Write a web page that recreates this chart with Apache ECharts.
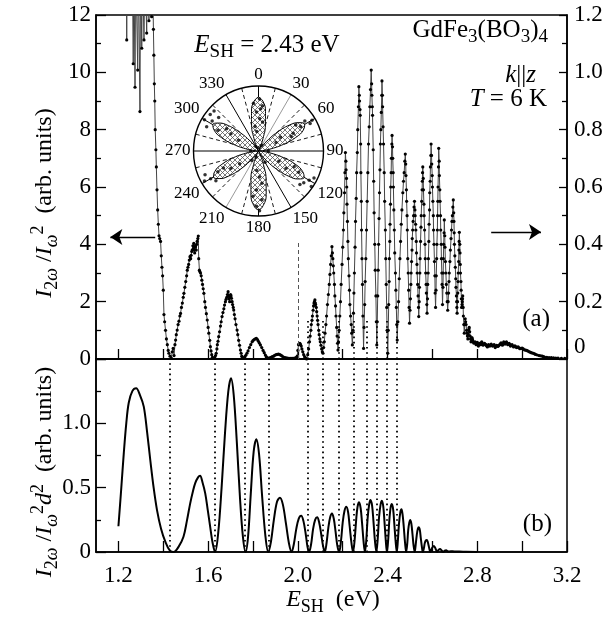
<!DOCTYPE html>
<html><head><meta charset="utf-8">
<script src="https://cdn.jsdelivr.net/npm/echarts@6/dist/echarts.min.js"></script>
<style>html,body{margin:0;padding:0;background:#fff}#c{width:610px;height:625px}</style>
</head><body><div id="c"></div>
<script>
// ---------------- DATA ----------------
const xTickValues = [1.2,1.4,1.6,1.8,2.0,2.2,2.4,2.6,2.8,3.0,3.2];
const xLabelValues = [1.2,1.6,2.0,2.4,2.8,3.2];

// (a) measured SH spectrum [E (eV), I2w/Iw^2]
const topData = [
[1.236,14],[1.237,11.13],[1.238,14],[1.262,14],[1.266,10.3],[1.269,14],[1.271,14],[1.274,9.48],[1.277,14],
[1.283,14],[1.286,10.08],[1.289,14],[1.293,14],[1.296,8.63],[1.299,14],[1.302,14],[1.304,10.84],[1.307,14],
[1.311,14],[1.314,11.13],[1.318,14],[1.322,14],[1.326,11.37],[1.33,14],[1.333,14],[1.336,11.8],[1.34,14],
[1.345,14],[1.348,11.94],[1.352,14],[1.354,12.5],[1.356,11.5],[1.358,10.6],[1.36,9.6],[1.362,9.0],[1.364,8.0],
[1.367,7.3],[1.369,6.7],[1.372,5.9],[1.375,5.2],[1.378,4.7],[1.381,4.3],[1.384,4.2],[1.388,4.1],[1.391,3.6],
[1.394,3.2],[1.397,2.9],[1.400,2.4],[1.403,1.55],[1.406,1.3],[1.41,1.0],[1.414,0.7],[1.418,0.5],[1.422,0.3],
[1.425,0.2],[1.43,0.1],[1.436,0.03],[1.44,0.25],[1.444,0.37],[1.448,0.12],[1.452,0.5],[1.455,0.66],[1.458,0.85],
[1.462,1.01],[1.466,1.2],[1.47,1.32],[1.474,1.5],[1.477,1.59],[1.481,1.8],[1.485,1.95],[1.489,2.15],[1.492,2.29],
[1.496,2.5],[1.5,2.7],[1.504,2.9],[1.507,3.1],[1.51,3.2],[1.513,3.3],[1.516,3.45],[1.519,3.57],[1.522,3.5],
[1.524,3.62],[1.527,3.75],[1.529,3.8],[1.532,3.95],[1.534,3.85],[1.536,4.03],[1.538,3.8],[1.54,3.7],[1.542,3.9],
[1.544,3.95],[1.547,3.8],[1.549,4.0],[1.551,4.1],[1.554,4.2],[1.556,4.29],[1.558,3.5],[1.561,3.1],[1.563,3.05],
[1.566,3.0],[1.569,2.9],[1.572,2.75],[1.575,2.6],[1.578,2.45],[1.581,2.29],[1.585,2.0],[1.588,1.8],[1.592,1.58],
[1.596,1.36],[1.6,1.1],[1.603,0.9],[1.607,0.65],[1.61,0.43],[1.613,0.28],[1.616,0.15],[1.619,0.06],[1.622,0.02],
[1.626,0.03],[1.629,0.05],[1.633,0.12],[1.636,0.2],[1.639,0.35],[1.641,0.5],[1.644,0.62],[1.647,0.78],[1.651,0.95],
[1.655,1.15],[1.658,1.3],[1.662,1.48],[1.666,1.62],[1.67,1.75],[1.673,1.88],[1.677,2.0],[1.68,2.08],[1.683,2.15],
[1.686,2.25],[1.689,2.35],[1.691,2.2],[1.693,2.1],[1.696,2.0],[1.698,2.15],[1.7,2.25],[1.702,2.2],[1.704,2.12],
[1.707,2.0],[1.709,1.9],[1.712,1.8],[1.714,1.71],[1.717,1.55],[1.72,1.4],[1.724,1.2],[1.729,1.01],[1.732,0.85],
[1.736,0.65],[1.74,0.48],[1.744,0.31],[1.747,0.2],[1.75,0.1],[1.753,0.05],[1.756,0.02],[1.76,0.04],[1.764,0.08],
[1.768,0.13],[1.773,0.2],[1.778,0.28],[1.784,0.4],[1.79,0.5],[1.796,0.6],[1.8,0.64],[1.805,0.68],[1.81,0.7],
[1.815,0.72],[1.82,0.68],[1.824,0.62],[1.828,0.56],[1.833,0.49],[1.839,0.4],[1.845,0.3],[1.85,0.22],[1.855,0.14],
[1.859,0.08],[1.862,0.05],[1.866,0.03],[1.87,0.02],[1.875,0.04],[1.88,0.06],[1.886,0.08],[1.892,0.1],[1.897,0.13],
[1.903,0.15],[1.908,0.16],[1.914,0.17],[1.92,0.15],[1.925,0.13],[1.93,0.1],[1.936,0.07],[1.942,0.05],[1.947,0.04],
[1.953,0.03],[1.959,0.02],[1.965,0.02],[1.97,0.02],[1.976,0.02],[1.981,0.02],[1.986,0.03],[1.99,0.03],[1.994,0.06],
[1.997,0.1],[2.0,0.3],[2.003,0.5],[2.006,0.53],[2.009,0.55],[2.012,0.5],[2.015,0.45],[2.018,0.35],[2.022,0.25],
[2.026,0.15],[2.03,0.08],[2.035,0.03],[2.039,0.0],[2.044,0.15],[2.048,0.35],[2.052,0.6],[2.055,0.8],[2.058,1.0],
[2.06,1.2],[2.063,1.35],[2.065,1.5],[2.068,1.7],[2.07,1.85],[2.072,1.95],[2.074,2.0],[2.076,2.06],[2.078,1.95],
[2.079,1.9],[2.082,1.8],[2.084,1.65],[2.086,1.5],[2.088,1.35],[2.09,1.2],[2.093,1.0],[2.095,0.85],[2.098,0.7],
[2.1,0.6],[2.103,0.48],[2.106,0.35],[2.109,0.25],[2.112,0.2],[2.115,0.4],[2.118,0.6],[2.121,0.9],[2.125,1.2],
[2.128,1.5],[2.132,1.9],[2.136,2.25],[2.14,2.6],[2.143,2.95],[2.146,3.3],[2.149,3.6],[2.152,3.92],[2.154,3.7],
[2.156,3.5],[2.158,3.25],[2.16,3.0],[2.163,2.6],[2.165,2.2],[2.168,1.85],[2.17,1.5],[2.173,1.1],[2.175,0.8],
[2.177,0.55],[2.179,0.31],[2.181,0.6],[2.184,1.0],[2.187,1.5],[2.19,2.0],[2.193,2.6],[2.197,3.3],[2.2,3.9],
[2.203,4.5],[2.205,5.1],[2.208,5.8],[2.21,6.5],[2.212,7.2],[2.214,6.9],[2.215,6.6],[2.217,6.3],[2.218,6.0],
[2.219,5.4],[2.221,4.8],[2.223,4.1],[2.225,3.5],[2.228,2.9],[2.23,2.4],[2.232,1.9],[2.235,1.5],[2.238,1.2],
[2.24,0.9],[2.243,0.49],[2.246,1.0],[2.248,1.6],[2.25,2.3],[2.252,3.0],[2.255,3.9],[2.257,4.8],[2.26,5.6],
[2.262,6.5],[2.265,7.2],[2.267,8.0],[2.27,8.8],[2.272,9.5],[2.274,9.2],[2.275,9.0],[2.277,8.7],[2.278,8.5],
[2.28,7.5],[2.281,6.5],[2.283,5.5],[2.284,4.5],[2.286,3.5],[2.288,2.6],[2.29,1.5],[2.293,0.37],[2.295,1.1],
[2.298,1.9],[2.3,2.7],[2.303,3.5],[2.306,4.5],[2.309,5.5],[2.312,6.5],[2.315,7.5],[2.318,8.1],[2.321,8.8],
[2.324,9.4],[2.327,10.08],[2.329,9.6],[2.33,9.2],[2.332,8.8],[2.333,8.5],[2.336,7.3],[2.338,6.2],[2.34,5.1],
[2.343,4.0],[2.345,3.1],[2.348,2.2],[2.35,1.3],[2.352,0.49],[2.354,1.3],[2.356,2.2],[2.358,3.1],[2.36,4.0],
[2.362,4.9],[2.364,5.8],[2.366,6.6],[2.368,7.5],[2.37,8.0],[2.372,8.6],[2.374,9.2],[2.375,9.7],[2.377,9.2],
[2.378,8.8],[2.38,8.1],[2.382,7.5],[2.385,6.5],[2.387,5.5],[2.39,4.5],[2.392,3.5],[2.394,2.6],[2.396,1.8],
[2.398,1.0],[2.401,0.2],[2.403,1.0],[2.405,1.9],[2.407,2.7],[2.408,3.5],[2.41,4.1],[2.411,4.7],[2.413,5.4],
[2.414,6.0],[2.416,6.5],[2.417,7.0],[2.419,7.5],[2.42,7.8],[2.422,7.4],[2.423,7.0],[2.425,6.5],[2.426,6.0],
[2.428,5.2],[2.43,4.5],[2.432,3.7],[2.435,3.0],[2.437,2.4],[2.439,1.8],[2.441,1.2],[2.443,0.66],[2.446,1.3],
[2.449,2.0],[2.452,2.8],[2.455,3.5],[2.458,4.1],[2.461,4.7],[2.464,5.2],[2.468,5.8],[2.471,6.2],[2.474,6.5],
[2.477,6.9],[2.479,7.15],[2.481,6.8],[2.482,6.4],[2.484,5.9],[2.485,5.5],[2.487,5.0],[2.488,4.5],[2.49,3.5],
[2.492,3.0],[2.494,2.4],[2.496,1.8],[2.498,1.25],[2.5,1.7],[2.502,2.1],[2.504,2.6],[2.505,3.0],[2.507,3.4],
[2.509,3.8],[2.51,4.2],[2.512,4.5],[2.514,4.8],[2.516,5.0],[2.518,5.3],[2.52,5.5],[2.522,5.2],[2.523,5.0],
[2.525,4.7],[2.526,4.5],[2.528,4.1],[2.529,3.7],[2.531,3.3],[2.532,3.0],[2.534,2.6],[2.536,2.2],[2.538,1.8],
[2.539,1.48],[2.541,2.0],[2.542,2.5],[2.544,3.0],[2.545,3.5],[2.547,4.1],[2.549,4.6],[2.55,5.0],[2.552,5.5],
[2.554,5.9],[2.555,6.2],[2.556,6.5],[2.557,6.7],[2.559,6.3],[2.56,5.9],[2.562,5.4],[2.563,5.0],[2.565,4.5],
[2.567,4.0],[2.568,3.5],[2.57,3.0],[2.572,2.6],[2.573,2.3],[2.575,1.9],[2.576,1.6],[2.578,2.1],[2.579,2.6],
[2.581,3.0],[2.582,3.5],[2.584,4.1],[2.585,4.7],[2.587,5.2],[2.588,5.8],[2.59,6.2],[2.591,6.7],[2.593,7.1],
[2.594,7.5],[2.596,7.1],[2.597,6.8],[2.599,6.4],[2.6,6.0],[2.602,5.5],[2.604,5.0],[2.605,4.5],[2.607,4.0],
[2.609,3.4],[2.611,2.9],[2.612,2.3],[2.614,1.8],[2.616,2.4],[2.617,2.9],[2.619,3.5],[2.62,4.0],[2.622,4.5],
[2.623,5.0],[2.624,5.5],[2.625,6.0],[2.627,6.7],[2.628,7.35],[2.63,6.9],[2.631,6.4],[2.633,5.9],[2.634,5.5],
[2.636,5.0],[2.637,4.5],[2.639,4.0],[2.64,3.5],[2.642,3.0],[2.643,2.6],[2.645,1.9],[2.647,2.5],[2.648,3.0],
[2.649,3.5],[2.65,4.0],[2.652,4.4],[2.653,4.85],[2.655,4.3],[2.656,3.9],[2.658,3.4],[2.66,3.0],[2.662,2.6],
[2.664,2.3],[2.666,2.0],[2.668,1.7],[2.67,2.0],[2.672,2.3],[2.674,2.7],[2.675,3.0],[2.678,3.4],[2.68,3.8],
[2.683,4.2],[2.685,4.5],[2.687,4.8],[2.689,5.0],[2.691,5.3],[2.693,5.55],[2.695,5.1],[2.696,4.8],[2.697,4.4],
[2.698,4.0],[2.7,3.6],[2.702,3.2],[2.704,2.8],[2.705,2.5],[2.707,2.2],[2.708,2.0],[2.709,1.8],[2.71,1.6],
[2.712,2.0],[2.713,2.3],[2.714,2.7],[2.715,3.0],[2.717,3.4],[2.718,3.8],[2.719,4.1],[2.72,4.42],[2.722,4.0],
[2.723,3.7],[2.724,3.3],[2.725,3.0],[2.727,2.7],[2.728,2.4],[2.729,2.1],[2.73,1.8],[2.732,1.9],[2.733,2.0],
[2.734,2.1],[2.735,2.2],[2.737,1.8],[2.738,1.5],[2.74,1.2],[2.742,0.9],[2.744,1.2],[2.746,1.4],[2.748,1.3],
[2.75,1.2],[2.752,1.0],[2.754,0.9],[2.756,0.8],[2.758,0.7],[2.76,0.85],[2.761,1.0],[2.763,1.05],[2.764,1.1],
[2.766,0.95],[2.768,0.8],[2.77,0.7],[2.772,0.6],[2.774,0.68],[2.776,0.75],[2.778,0.7],[2.779,0.66],[2.782,0.6],
[2.785,0.55],[2.788,0.58],[2.79,0.6],[2.793,0.55],[2.795,0.5],[2.798,0.55],[2.8,0.58],[2.803,0.5],[2.805,0.45],
[2.808,0.5],[2.81,0.55],[2.813,0.52],[2.815,0.5],[2.818,0.56],[2.82,0.6],[2.823,0.52],[2.826,0.48],[2.829,0.52],
[2.832,0.55],[2.835,0.52],[2.838,0.5],[2.841,0.46],[2.845,0.42],[2.848,0.46],[2.85,0.5],[2.853,0.48],[2.856,0.45],
[2.859,0.48],[2.862,0.52],[2.865,0.48],[2.868,0.45],[2.871,0.48],[2.875,0.5],[2.878,0.45],[2.88,0.4],[2.883,0.44],
[2.886,0.48],[2.889,0.46],[2.892,0.44],[2.896,0.47],[2.9,0.5],[2.903,0.53],[2.906,0.56],[2.909,0.52],[2.912,0.48],
[2.915,0.54],[2.918,0.6],[2.921,0.56],[2.924,0.52],[2.927,0.56],[2.93,0.6],[2.933,0.55],[2.936,0.5],[2.939,0.52],
[2.942,0.55],[2.945,0.5],[2.948,0.45],[2.951,0.48],[2.955,0.5],[2.958,0.46],[2.962,0.42],[2.965,0.44],[2.968,0.46],
[2.971,0.43],[2.975,0.4],[2.978,0.41],[2.982,0.42],[2.986,0.39],[2.99,0.36],[2.995,0.37],[3.0,0.38],[3.005,0.35],
[3.01,0.32],[3.015,0.31],[3.02,0.3],[3.025,0.28],[3.03,0.26],[3.035,0.24],[3.04,0.22],[3.045,0.21],[3.05,0.2],
[3.055,0.18],[3.06,0.16],[3.068,0.14],[3.076,0.12],[3.083,0.11],[3.09,0.1],[3.095,0.08],[3.1,0.07],[3.11,0.06],
[3.12,0.05],[3.13,0.045],[3.14,0.04],[3.15,0.035],[3.16,0.03],[3.175,0.025],[3.19,0.02]
];

// (b) calculated curve [E (eV), I2w/(Iw^2 d^2)]
const bottomData = [
[1.2,0.2],[1.212,0.48],[1.224,0.77],[1.235,1.0],[1.246,1.16],[1.262,1.25],[1.279,1.272],[1.296,1.22],[1.313,1.13],
[1.328,0.93],[1.342,0.715],[1.357,0.5],[1.372,0.326],[1.39,0.18],[1.409,0.08],[1.428,0.015],[1.446,0.0],[1.468,0.04],
[1.49,0.119],[1.505,0.24],[1.52,0.378],[1.532,0.47],[1.542,0.534],[1.555,0.58],[1.564,0.593],[1.575,0.54],[1.587,0.456],
[1.598,0.33],[1.609,0.197],[1.62,0.07],[1.631,0.0],[1.645,0.15],[1.66,0.5],[1.675,0.92],[1.69,1.25],[1.702,1.35],
[1.714,1.22],[1.728,0.85],[1.742,0.42],[1.755,0.12],[1.767,0.0],[1.778,0.12],[1.79,0.45],[1.803,0.78],[1.815,0.876],
[1.827,0.76],[1.84,0.45],[1.855,0.13],[1.868,0.0],[1.88,0.08],[1.893,0.25],[1.907,0.39],[1.92,0.422],[1.933,0.37],
[1.947,0.22],[1.96,0.07],[1.972,0.0],[1.982,0.06],[1.993,0.18],[2.004,0.26],[2.015,0.282],[2.025,0.24],[2.035,0.14],
[2.043,0.04],[2.05,0.0],[2.059,0.06],[2.068,0.18],[2.077,0.25],[2.086,0.27],[2.095,0.23],[2.104,0.14],[2.112,0.05],
[2.12,0.0],[2.128,0.07],[2.136,0.19],[2.144,0.27],[2.152,0.3],[2.16,0.26],[2.168,0.16],[2.176,0.05],[2.184,0.0],
[2.192,0.08],[2.2,0.23],[2.208,0.32],[2.216,0.352],[2.224,0.31],[2.231,0.2],[2.239,0.07],[2.246,0.0],[2.253,0.09],
[2.26,0.25],[2.266,0.35],[2.273,0.386],[2.28,0.34],[2.286,0.23],[2.293,0.08],[2.299,0.0],[2.305,0.09],[2.311,0.26],
[2.318,0.37],[2.324,0.404],[2.331,0.36],[2.337,0.24],[2.344,0.08],[2.35,0.0],[2.356,0.1],[2.362,0.27],[2.369,0.37],
[2.375,0.398],[2.381,0.35],[2.386,0.24],[2.392,0.09],[2.397,0.0],[2.403,0.1],[2.408,0.25],[2.414,0.35],[2.419,0.373],
[2.425,0.33],[2.43,0.22],[2.436,0.08],[2.441,0.0],[2.446,0.09],[2.451,0.22],[2.457,0.31],[2.462,0.332],[2.467,0.29],
[2.472,0.2],[2.478,0.07],[2.483,0.0],[2.488,0.07],[2.492,0.17],[2.497,0.23],[2.501,0.249],[2.506,0.22],[2.511,0.14],
[2.516,0.05],[2.521,0.0],[2.525,0.05],[2.53,0.13],[2.535,0.18],[2.539,0.192],[2.544,0.17],[2.548,0.11],[2.553,0.04],
[2.557,0.0],[2.562,0.03],[2.566,0.07],[2.571,0.09],[2.575,0.093],[2.579,0.08],[2.583,0.05],[2.587,0.02],[2.591,0.0],
[2.598,0.03],[2.606,0.047],[2.613,0.03],[2.621,0.0],[2.627,0.015],[2.634,0.023],[2.641,0.012],[2.648,0.0],[2.655,0.01],
[2.661,0.013],[2.668,0.006],[2.675,0.004],[2.69,0.006],[2.705,0.003],[2.72,0.004],[2.75,0.001],[2.8,0.0]
];

// dotted guide lines (eV)
const dottedLower = [1.427,1.631,1.764,1.868,2.046,2.113,2.184,2.249,2.305,2.35,2.397,2.441];
const dottedUpper = [2.046,2.113,2.184,2.249,2.305,2.35,2.397,2.441];

// polar inset: fitted lobes, r at angle (deg)
const lobeAngles = [0,5,10,15,20,25,30,35,40,45,50,55,60,65,70,75,80,85,90,95,100,105,110,115,120,125,130,135,140,145,150,
155,160,165,170,175,180,185,190,195,200,205,210,215,220,225,230,235,240,245,250,255,260,265,270,275,280,285,290,295,300,
305,310,315,320,325,330,335,340,345,350,355,360];
const lobeR = [0.83,0.77,0.62,0.41,0.2,0.06,0,0.06,0.2,0.41,0.62,0.76,0.82,0.76,0.61,0.4,0.2,0.06,0,0.06,0.2,0.4,0.61,0.75,0.81,
0.75,0.6,0.4,0.2,0.05,0,0.06,0.22,0.45,0.68,0.84,0.9,0.84,0.67,0.45,0.22,0.06,0,0.05,0.2,0.4,0.6,0.74,0.8,0.74,0.6,0.4,0.2,
0.05,0,0.05,0.2,0.4,0.61,0.75,0.81,0.75,0.61,0.4,0.2,0.06,0,0.06,0.2,0.41,0.62,0.77,0.83];
// measured points [r, angle]
const polarDots = [
[0.3,355],[0.5,2],[0.6,357],[0.7,5],[0.8,1],[0.74,354],[0.45,8],[0.65,3],[0.38,352],
[0.4,58],[0.6,63],[0.75,60],[0.85,57],[0.9,62],[0.7,55],[0.55,66],[0.95,60],[0.3,64],
[0.5,122],[0.7,118],[0.85,125],[0.9,120],[0.95,116],[0.82,129],[0.6,114],[0.98,124],[0.35,117],
[0.4,178],[0.6,183],[0.75,176],[0.85,182],[0.7,187],[0.5,174],[0.92,179],[0.3,185],
[0.5,238],[0.7,243],[0.85,240],[0.9,246],[0.8,235],[0.6,244],[0.95,241],[0.35,236],
[0.5,302],[0.7,297],[0.85,303],[0.93,307],[0.96,300],[0.88,295],[0.8,310],[0.6,305],[0.92,312],[0.35,298],
[0.1,30],[0.15,90],[0.1,200],[0.12,270],[0.2,150],[0.05,0],[0.08,330],[0.18,215]
];

// ---------------- CHART ----------------
const F = "'Liberation Serif','Times New Roman',serif";
const chart = echarts.init(document.getElementById('c'), null, {renderer:'canvas'});

const pc = document.createElement('canvas'); pc.width = 5; pc.height = 5;
const px = pc.getContext('2d');
px.fillStyle = '#fff'; px.fillRect(0,0,5,5);
px.strokeStyle = '#555'; px.lineWidth = 0.8;
px.beginPath(); px.moveTo(0,0); px.lineTo(5,5); px.moveTo(5,0); px.lineTo(0,5); px.stroke();

function mkRich(main, sub, lh, slh){
  return {
    n:{fontFamily:F,fontSize:main,lineHeight:lh,color:'#000'},
    i:{fontFamily:F,fontSize:main,fontStyle:'italic',lineHeight:lh,color:'#000'},
    sub:{fontFamily:F,fontSize:sub,lineHeight:slh,verticalAlign:'bottom',color:'#000'},
    subi:{fontFamily:F,fontSize:sub,fontStyle:'italic',lineHeight:slh,verticalAlign:'bottom',color:'#000'},
    sup:{fontFamily:F,fontSize:sub,lineHeight:slh,verticalAlign:'top',color:'#000'}
  };
}
const richA = mkRich(25,19,34,18);
const richT = mkRich(24,18,32,17);
function txt(x,y,text,align,rot,rich){
  return {type:'text',x:x,y:y,rotation:rot||0,silent:true,z:10,
    style:{text:text,rich:rich||richA,align:align||'center',verticalAlign:'middle'}};
}

const fmt1 = v => (Math.abs(v) < 1e-9 ? '0' : v.toFixed(1));
const lab = {fontFamily:F,fontSize:23,color:'#000'};
const axLine = {show:true,lineStyle:{color:'#000',width:1.5}};

const option = {
  animation:false,
  backgroundColor:'#fff',
  grid:[
    {left:96,top:15,width:471,height:344,show:true,borderColor:'#000',borderWidth:1.5,backgroundColor:'transparent'},
    {left:96,top:359,width:471,height:193,show:true,borderColor:'#000',borderWidth:1.5,backgroundColor:'transparent'}
  ],
  xAxis:[
    {type:'value',gridIndex:0,min:1.1,max:3.2,axisLine:axLine,splitLine:{show:false},
     axisTick:{show:true,inside:true,length:10,customValues:xTickValues,lineStyle:{color:'#000',width:1.3}},
     axisLabel:{show:false}},
    {type:'value',gridIndex:1,min:1.1,max:3.2,axisLine:axLine,splitLine:{show:false},
     axisTick:{show:true,inside:true,length:11,customValues:xTickValues,lineStyle:{color:'#000',width:1.3}},
     axisLabel:Object.assign({customValues:xLabelValues,margin:12,formatter:fmt1},lab)}
  ],
  yAxis:[
    {type:'value',gridIndex:0,min:0,max:12,interval:2,position:'left',axisLine:axLine,splitLine:{show:false},
     axisTick:{show:true,inside:true,length:10,lineStyle:{color:'#000',width:1.3}},
     minorTick:{show:true,splitNumber:2,length:5,lineStyle:{color:'#000',width:1.3}},
     axisLabel:Object.assign({margin:5},lab)},
    {type:'value',gridIndex:0,min:0,max:1.2,interval:0.2,position:'right',axisLine:axLine,splitLine:{show:false},
     axisTick:{show:true,inside:true,length:8,lineStyle:{color:'#000',width:1.3}},
     minorTick:{show:true,splitNumber:2,length:5,lineStyle:{color:'#000',width:1.3}},
     axisLabel:Object.assign({margin:7,formatter:v => (Math.abs(v)<1e-9 ? '{z|0}' : v.toFixed(1)),
       rich:{z:{fontFamily:F,fontSize:23,color:'#000',padding:[0,0,24,0]}}},lab)},
    {type:'value',gridIndex:1,min:0,max:1.5,interval:0.5,position:'left',axisLine:axLine,splitLine:{show:false},
     axisTick:{show:true,inside:true,length:10,lineStyle:{color:'#000',width:1.3}},
     minorTick:{show:true,splitNumber:2,length:5,lineStyle:{color:'#000',width:1.3}},
     axisLabel:Object.assign({margin:5,formatter:v => (v > 1.4 ? '' : fmt1(v))},lab)}
  ],
  polar:{center:[258.5,151],radius:65},
  angleAxis:{type:'value',min:0,max:360,interval:30,startAngle:90,clockwise:true,
    axisLine:{show:true,lineStyle:{color:'#000',width:1.4}},
    axisTick:{show:false},
    axisLabel:{show:true,margin:3,fontFamily:F,fontSize:17,color:'#000'},
    splitLine:{show:true,lineStyle:{width:1,color:['#000','#999','#000','#000','#000','#000','#000','#999','#000','#000','#000','#000']}},
    minorTick:{show:false,splitNumber:2},
    minorSplitLine:{show:true,lineStyle:{color:'#000',width:0.9,type:[4,3]}}
  },
  radiusAxis:{type:'value',min:0,max:1,axisLine:{show:false},axisTick:{show:false},axisLabel:{show:false},splitLine:{show:false}},
  series:[
    {type:'line',name:'measured',xAxisIndex:0,yAxisIndex:0,data:topData,clip:true,
     lineStyle:{color:'#444',width:1},symbol:'circle',symbolSize:3.2,showSymbol:true,showAllSymbol:true,
     itemStyle:{color:'#000'},z:3},
    {type:'line',name:'calc',xAxisIndex:1,yAxisIndex:2,data:bottomData,clip:true,smooth:0.35,
     lineStyle:{color:'#000',width:2},symbol:'none',z:3},
    {type:'line',xAxisIndex:1,yAxisIndex:2,data:[],silent:true,
     markLine:{silent:true,symbol:['none','none'],label:{show:false},animation:false,
       lineStyle:{color:'#000',width:1.8,type:[1.6,3.6]},
       data:dottedLower.map(e => [{coord:[e,0]},{coord:[e,1.5]}])}},
    {type:'line',xAxisIndex:0,yAxisIndex:0,data:[],silent:true,
     markLine:{silent:true,symbol:['none','none'],label:{show:false},animation:false,
       lineStyle:{color:'#000',width:1.8,type:[1.6,3.6]},
       data:dottedUpper.map(e => [{coord:[e,0]},{coord:[e,1.35]}])}},
    {type:'line',xAxisIndex:0,yAxisIndex:0,data:[],silent:true,
     markLine:{silent:true,symbol:['none','none'],label:{show:false},animation:false,
       lineStyle:{color:'#555',width:1,type:[4,3]},
       data:[[{coord:[2.0,0]},{coord:[2.0,4.05]}]]}},
    {type:'line',xAxisIndex:0,yAxisIndex:0,data:[],silent:true,
     markLine:{silent:true,symbol:['none','arrow'],symbolSize:12,label:{show:false},animation:false,
       lineStyle:{color:'#000',width:1.3,type:'solid'},
       data:[[{coord:[1.364,4.26]},{coord:[1.164,4.26]}],[{coord:[2.862,4.43]},{coord:[3.084,4.43]}]]}},
    {type:'line',coordinateSystem:'polar',data:lobeR.map((r,k)=>[r,lobeAngles[k]]),smooth:true,
     symbol:'none',lineStyle:{color:'#000',width:1},
     areaStyle:{color:{image:pc,repeat:'repeat'},opacity:1},z:4},
    {type:'scatter',coordinateSystem:'polar',data:polarDots,symbolSize:3.5,itemStyle:{color:'#000'},z:5}
  ],
  graphic:[
    txt(267,45,'{i|E}{sub|SH}{n| = 2.43 eV}','center'),
    txt(548,30,'{n|GdFe}{sub|3}{n|(BO}{sub|3}{n|)}{sub|4}','right'),
    txt(536,75,'{i|k}{n|||}{i|z}','right'),
    txt(547,99,'{i|T}{n| = 6 K}','right'),
    txt(550,319,'{n|(a)}','right'),
    txt(552,524,'{n|(b)}','right'),
    txt(45,203,'{i|I}{sub|2}{subi|ω}{n| /}{i|I}{subi|ω}{sup|2}{n|  (arb. units)}','center',Math.PI/2,richT),
    txt(45,472,'{i|I}{sub|2}{subi|ω}{n| /}{i|I}{subi|ω}{sup|2}{i|d}{sup|2}{n|  (arb. units)}','center',Math.PI/2,richT),
    txt(333,600,'{i|E}{sub|SH}{n|  (eV)}','center',0,richT)
  ]
};
chart.setOption(option);
</script></body></html>
